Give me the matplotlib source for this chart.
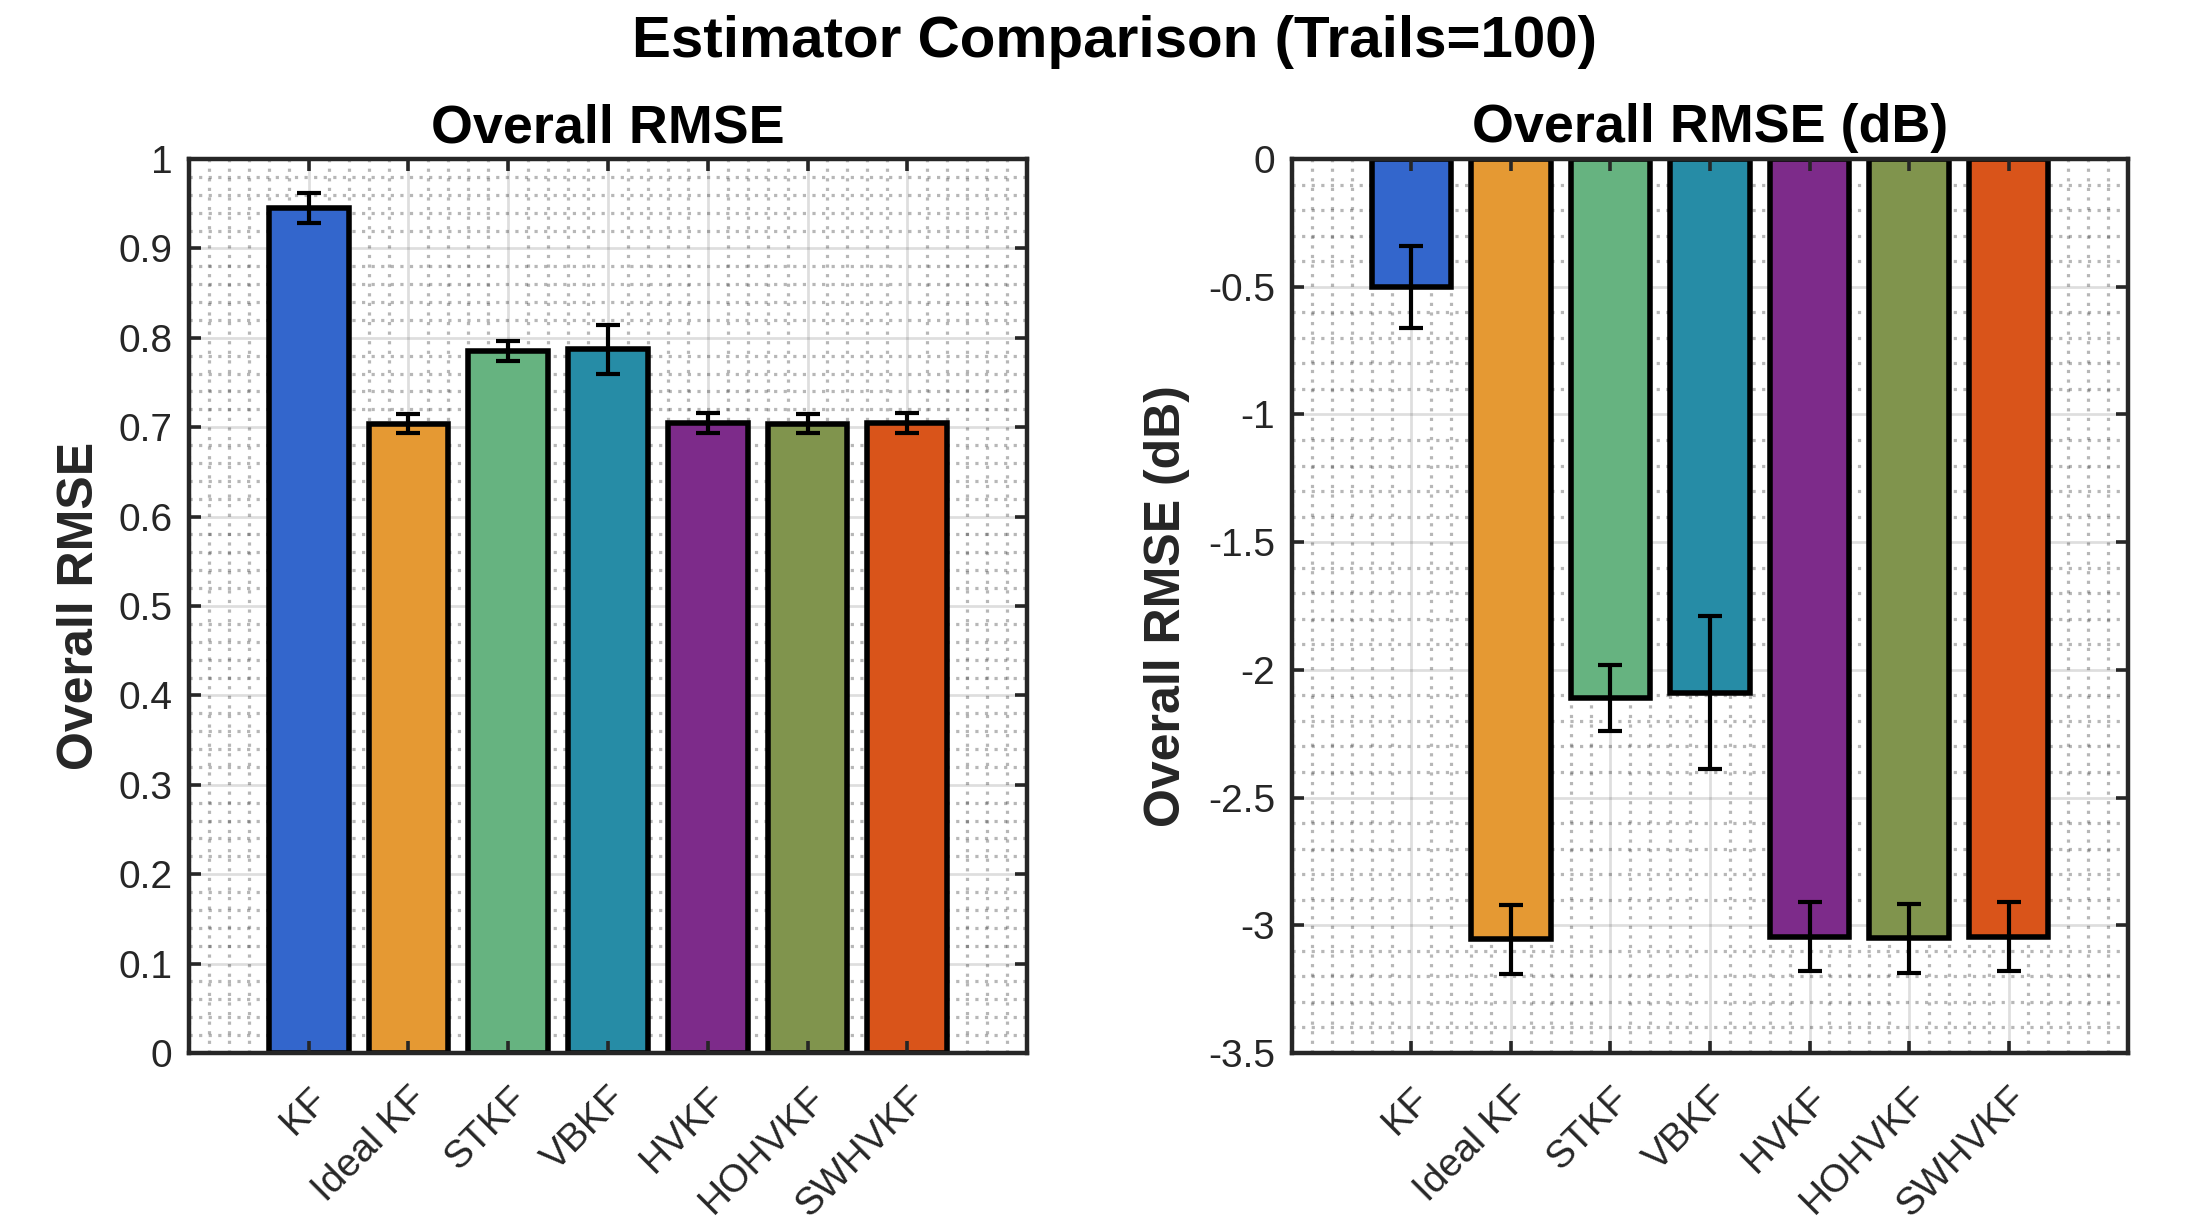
import numpy as np
import matplotlib
matplotlib.use("Agg")
import matplotlib.pyplot as plt

plt.rcParams['font.family'] = ['Liberation Sans', 'DejaVu Sans']
plt.rcParams['axes.unicode_minus'] = False

categories = ['KF', 'Ideal KF', 'STKF', 'VBKF', 'HVKF', 'HOHVKF', 'SWHVKF']
rmse = [0.945, 0.704, 0.785, 0.787, 0.705, 0.704, 0.705]
rmse_err = [0.017, 0.011, 0.0115, 0.027, 0.011, 0.011, 0.011]
rmse_db = [-0.50, -3.055, -2.11, -2.09, -3.045, -3.05, -3.045]
rmse_db_err = [0.16, 0.135, 0.13, 0.30, 0.135, 0.135, 0.135]
colors = ['#3366CC', '#E59933', '#66B380', '#268CA6', '#7D2B8A', '#80944D', '#D9541A']

left_yticks = [0, 0.1, 0.2, 0.3, 0.4, 0.5, 0.6, 0.7, 0.8, 0.9, 1]
right_yticks = [-3.5, -3, -2.5, -2, -1.5, -1, -0.5, 0]

W, H = 2186, 1232
DPI = 200
fig = plt.figure(figsize=(W / DPI, H / DPI), dpi=DPI)

AX_COLOR = '#262626'
ax1 = fig.add_axes([189 / W, (H - 1053) / H, 838 / W, 894 / H])
ax2 = fig.add_axes([1292 / W, (H - 1053) / H, 836 / W, 894 / H])


def style_axes(ax, vals, errs, ylim, yticks, ylabel, title, ymin_step, labelpad):
    x = np.arange(1, len(categories) + 1)
    xlim = (-0.2, 8.2)
    ax.set_xlim(*xlim)
    ax.set_ylim(*ylim)
    # grid lines (drawn beneath bars, ticks stay on top)
    for xm in np.arange(xlim[0], xlim[1] + 1e-9, 0.2):
        if abs(xm - round(xm)) < 1e-6 and 1 <= round(xm) <= len(categories):
            continue
        ax.axvline(xm, color=AX_COLOR, alpha=0.33, lw=1.15,
                   linestyle=(0, (1, 2.0)), dash_capstyle='butt', zorder=0.2)
    for ym in np.arange(ylim[0], ylim[1] + 1e-9, ymin_step):
        if any(abs(ym - t) < 1e-6 for t in yticks):
            continue
        ax.axhline(ym, color=AX_COLOR, alpha=0.33, lw=1.15,
                   linestyle=(0, (1, 2.0)), dash_capstyle='butt', zorder=0.2)
    for xv in x:
        ax.axvline(xv, color=AX_COLOR, alpha=0.15, lw=1.0, zorder=0.3)
    for yv in yticks:
        ax.axhline(yv, color=AX_COLOR, alpha=0.15, lw=1.0, zorder=0.3)

    ax.bar(x, vals, width=0.8, color=colors, edgecolor='black', linewidth=2.0, zorder=1)
    ax.errorbar(x, vals, yerr=errs, fmt='none', ecolor='black', elinewidth=1.5,
                capsize=4.2, capthick=1.5, zorder=2)

    ax.set_xticks(x)
    ax.set_xticklabels(categories, rotation=45, ha='right', rotation_mode='anchor')
    ax.set_yticks(yticks)
    ax.set_yticklabels([f'{t:g}' for t in yticks])
    ax.tick_params(axis='both', direction='in', top=True, right=True, length=4.2,
                   width=1.3, color=AX_COLOR, labelcolor=AX_COLOR, labelsize=14, pad=6)
    ax.tick_params(axis='x', pad=10)
    for s in ax.spines.values():
        s.set_linewidth(1.6)
        s.set_color(AX_COLOR)
        s.set_zorder(3)
    ax.set_ylabel(ylabel, fontsize=18, fontweight='bold', color=AX_COLOR, labelpad=labelpad)
    ax.set_title(title, fontsize=19.4, fontweight='bold', pad=6)


style_axes(ax1, rmse, rmse_err, (0, 1), left_yticks, 'Overall RMSE', 'Overall RMSE', 0.02, 5.5)
style_axes(ax2, rmse_db, rmse_db_err, (-3.5, 0), right_yticks, 'Overall RMSE (dB)',
           'Overall RMSE (dB)', 0.1, 6.5)

fig.suptitle('Estimator Comparison (Trails=100)', fontsize=21, fontweight='bold',
             x=0.510, y=0.988)

fig.savefig('out.png', dpi=DPI)
